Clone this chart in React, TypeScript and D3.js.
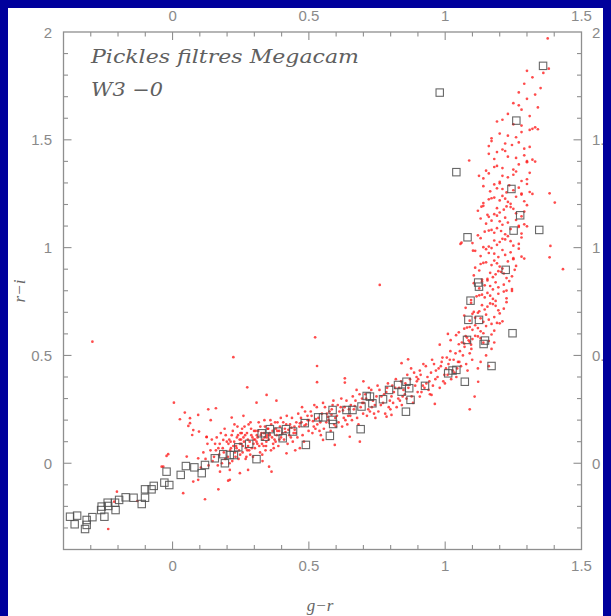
import React from "react";
import * as d3 from "d3";

// Pickles library stars: g-r vs r-i in Megacam filters (open squares)
const pickles: [number, number][] = [
  [-0.376, -0.248], [-0.350, -0.243], [-0.359, -0.283], [-0.321, -0.305], [-0.315, -0.286],
  [-0.315, -0.263], [-0.294, -0.250], [-0.260, -0.201], [-0.262, -0.217], [-0.250, -0.248],
  [-0.238, -0.183], [-0.236, -0.198], [-0.209, -0.217], [-0.211, -0.183], [-0.196, -0.170],
  [-0.172, -0.158], [-0.143, -0.160], [-0.113, -0.189], [-0.101, -0.160], [-0.101, -0.121],
  [-0.077, -0.121], [-0.069, -0.105], [-0.030, -0.090], [-0.012, -0.101], [-0.022, -0.039],
  [0.030, -0.054], [0.049, -0.013], [0.080, -0.019], [0.107, -0.046], [0.119, -0.008],
  [0.155, 0.023], [0.186, 0.042], [0.192, 0.000], [0.210, 0.038], [0.225, 0.038],
  [0.241, 0.074], [0.281, 0.090], [0.308, 0.019], [0.327, 0.139], [0.339, 0.123],
  [0.357, 0.158], [0.387, 0.147], [0.404, 0.116], [0.416, 0.158], [0.442, 0.147],
  [0.489, 0.085], [0.485, 0.186], [0.534, 0.213], [0.552, 0.213], [0.577, 0.127],
  [0.587, 0.201], [0.589, 0.182], [0.587, 0.247], [0.638, 0.247], [0.660, 0.247],
  [0.690, 0.158], [0.693, 0.263], [0.712, 0.312], [0.724, 0.309], [0.733, 0.278],
  [0.772, 0.297], [0.794, 0.340], [0.827, 0.363], [0.840, 0.332], [0.858, 0.378],
  [0.868, 0.348], [0.873, 0.294], [0.856, 0.239], [0.926, 0.359], [1.011, 0.417],
  [1.027, 0.430], [1.041, 0.433], [1.072, 0.378], [1.080, 0.572], [1.146, 0.569],
  [1.141, 0.553], [1.170, 0.451], [1.085, 0.665], [1.124, 0.665], [1.093, 0.754],
  [1.121, 0.838], [1.124, 0.819], [1.222, 0.897], [1.247, 0.603], [0.980, 1.719],
  [1.261, 1.589], [1.041, 1.350], [1.243, 1.272], [1.275, 1.150], [1.251, 1.079],
  [1.345, 1.082], [1.082, 1.048], [1.359, 1.843],
];

// W3 field stars along the main sequence band (red dots)
const fieldBand: [number, number][] = [
  [0.113,0.05],[0.147,0.01],[0.128,0.09],[0.104,-0.02],[0.139,0.06],[0.121,0.02],[0.144,0.11],[0.132,-0.01],
  [0.171,0.04],[0.156,0.09],[0.193,0.02],[0.162,0.12],[0.184,0.07],[0.199,0.10],[0.152,0.03],[0.177,0.14],
  [0.166,-0.01],[0.188,0.05],[0.195,0.13],[0.159,0.06],[0.181,0.00],[0.173,0.09],[0.191,0.16],[0.168,0.07],
  [0.214,0.07],[0.236,0.12],[0.203,0.03],[0.247,0.09],[0.221,0.15],[0.229,0.05],[0.242,0.02],[0.208,0.11],
  [0.233,0.08],[0.219,0.01],[0.249,0.14],[0.226,0.10],[0.211,0.06],[0.238,0.17],[0.205,0.09],[0.244,0.06],
  [0.217,0.13],[0.231,0.03],[0.223,0.08],[0.246,0.11],[0.209,0.00],[0.235,0.07],[0.240,0.13],[0.227,0.18],
  [0.213,0.10],[0.248,0.04],
  [0.262,0.10],[0.281,0.06],[0.254,0.14],[0.293,0.12],[0.271,0.03],[0.288,0.16],[0.258,0.08],[0.297,0.09],
  [0.266,0.13],[0.276,0.11],[0.285,0.04],[0.251,0.11],[0.299,0.15],[0.269,0.07],[0.279,0.18],[0.257,0.05],
  [0.291,0.07],[0.273,0.14],[0.283,0.10],[0.264,0.17],[0.295,0.03],[0.252,0.09],[0.277,0.08],[0.289,0.13],
  [0.268,0.02],[0.260,0.12],[0.286,0.19],[0.274,0.06],[0.298,0.11],[0.255,0.16],
  [0.312,0.12],[0.334,0.08],[0.305,0.15],[0.347,0.13],[0.321,0.05],[0.339,0.17],[0.308,0.10],[0.326,0.14],
  [0.344,0.10],[0.316,0.19],[0.302,0.07],[0.331,0.11],[0.349,0.16],[0.318,0.08],[0.337,0.20],[0.324,0.13],
  [0.341,0.06],[0.309,0.13],[0.328,0.09],[0.346,0.12],[0.314,0.15],[0.335,0.14],[0.303,0.11],[0.322,0.17],
  [0.343,0.08],[0.329,0.04],[0.311,0.09],[0.338,0.12],
  [0.356,0.14],[0.378,0.10],[0.362,0.18],[0.391,0.15],[0.371,0.07],[0.385,0.19],[0.353,0.11],[0.398,0.12],
  [0.367,0.15],[0.382,0.13],[0.359,0.20],[0.394,0.17],[0.374,0.11],[0.388,0.08],[0.365,0.12],[0.351,0.16],
  [0.397,0.21],[0.379,0.16],[0.369,0.09],[0.392,0.11],[0.357,0.13],[0.384,0.15],[0.376,0.19],[0.361,0.06],
  [0.412,0.16],[0.434,0.12],[0.406,0.19],[0.447,0.17],[0.422,0.09],[0.438,0.21],[0.403,0.14],[0.444,0.14],
  [0.417,0.18],[0.428,0.13],[0.441,0.10],[0.409,0.11],[0.431,0.18],[0.419,0.22],[0.425,0.155],[0.436,0.165],
  [0.414,0.145],[0.448,0.155],
  [0.454,0.19],[0.477,0.13],[0.495,0.22],[0.465,0.17],[0.486,0.24],[0.458,0.12],[0.499,0.15],[0.471,0.21],
  [0.482,0.10],[0.461,0.23],[0.490,0.18],[0.475,0.26],[0.452,0.14],[0.496,0.20],[0.467,0.185],[0.484,0.175],
  [0.473,0.19],
  [0.518,0.17],[0.507,0.24],[0.542,0.19],[0.529,0.26],[0.513,0.14],[0.548,0.23],[0.524,0.16],[0.535,0.21],
  [0.501,0.20],[0.539,0.15],[0.520,0.27],[0.544,0.13],[0.510,0.22],[0.531,0.18],[0.526,0.205],[0.515,0.195],
  [0.576,0.24],[0.593,0.18],[0.555,0.16],[0.587,0.27],[0.566,0.23],[0.597,0.21],[0.580,0.15],[0.559,0.26],
  [0.572,0.20],[0.590,0.29],[0.564,0.19],[0.584,0.25],[0.552,0.28],[0.599,0.17],[0.570,0.215],[0.583,0.225],
  [0.612,0.24],[0.634,0.20],[0.606,0.27],[0.647,0.25],[0.622,0.17],[0.638,0.29],[0.603,0.22],[0.644,0.22],
  [0.617,0.26],[0.628,0.21],[0.641,0.18],[0.609,0.19],[0.631,0.26],[0.619,0.30],[0.625,0.245],
  [0.654,0.27],[0.677,0.21],[0.695,0.30],[0.665,0.25],[0.686,0.32],[0.658,0.20],[0.699,0.23],[0.671,0.29],
  [0.682,0.18],[0.661,0.31],[0.690,0.26],[0.675,0.34],[0.652,0.22],[0.696,0.28],[0.668,0.265],
  [0.718,0.25],[0.707,0.32],[0.742,0.27],[0.729,0.34],[0.713,0.22],[0.748,0.31],[0.724,0.24],[0.735,0.29],
  [0.701,0.28],[0.739,0.23],[0.720,0.35],[0.744,0.21],[0.710,0.30],[0.731,0.26],
  [0.776,0.32],[0.793,0.26],[0.755,0.24],[0.787,0.35],[0.766,0.31],[0.797,0.29],[0.780,0.23],[0.759,0.34],
  [0.772,0.28],[0.790,0.37],[0.764,0.27],[0.784,0.33],[0.752,0.36],[0.799,0.25],
  [0.812,0.33],[0.834,0.29],[0.806,0.36],[0.847,0.34],[0.822,0.26],[0.838,0.38],[0.803,0.31],[0.844,0.31],
  [0.817,0.35],[0.828,0.30],[0.841,0.27],[0.809,0.28],[0.831,0.35],[0.819,0.39],
  [0.854,0.37],[0.877,0.31],[0.895,0.40],[0.865,0.35],[0.886,0.42],[0.858,0.30],[0.899,0.33],[0.871,0.39],
  [0.882,0.28],[0.861,0.41],[0.890,0.36],[0.875,0.44],[0.852,0.32],[0.896,0.38],
  [0.918,0.36],[0.907,0.43],[0.942,0.38],[0.929,0.45],[0.913,0.33],[0.948,0.42],[0.924,0.35],[0.935,0.40],
  [0.901,0.39],[0.939,0.34],[0.920,0.46],[0.944,0.32],[0.910,0.41],[0.931,0.37],
  [0.976,0.44],[0.993,0.38],[0.955,0.36],[0.987,0.47],[0.966,0.43],[0.997,0.41],[0.980,0.35],[0.959,0.46],
  [0.972,0.40],[0.990,0.49],[0.964,0.39],[0.984,0.45],[0.952,0.48],[0.999,0.37],
  [1.012,0.46],[1.034,0.42],[1.006,0.49],[1.047,0.47],[1.022,0.39],[1.038,0.51],[1.003,0.44],[1.044,0.44],
  [1.017,0.48],[1.028,0.43],[1.041,0.40],[1.009,0.41],[1.031,0.48],[1.019,0.52],
  [1.054,0.52],[1.077,0.46],[1.095,0.55],[1.065,0.50],[1.086,0.57],[1.058,0.45],[1.099,0.48],[1.071,0.54],
  [1.082,0.43],[1.061,0.56],[1.090,0.51],[1.075,0.59],[1.052,0.47],[1.096,0.53],
  [1.13,0.47],[1.15,0.50],[1.17,0.53],[1.12,0.44],[1.18,0.56],[1.16,0.45],
];

// W3 field stars on the red-dwarf branch
const fieldBranch: [number, number][] = [
  [1.07,0.555],[1.12,0.588],[1.16,0.567],[1.04,0.594],[1.10,0.576],[1.14,0.559],[1.08,0.583],[1.02,0.571],[1.17,0.597],[1.09,0.563],[1.13,0.580],[1.05,0.552],[1.11,0.591],
  [1.13,0.612],[1.08,0.629],[1.17,0.646],[1.05,0.607],[1.15,0.636],[1.10,0.619],[1.20,0.649],[1.07,0.624],[1.14,0.603],[1.11,0.640],[1.18,0.615],[1.09,0.632],[1.12,0.627],
  [1.13,0.672],[1.19,0.651],[1.10,0.693],[1.16,0.666],[1.07,0.685],[1.21,0.658],[1.12,0.698],[1.18,0.678],[1.09,0.661],[1.15,0.689],[1.11,0.675],[1.20,0.695],[1.14,0.656],
  [1.125,0.705],[1.175,0.738],[1.215,0.717],[1.095,0.744],[1.155,0.726],[1.195,0.709],[1.135,0.733],[1.075,0.721],[1.225,0.747],[1.145,0.713],[1.185,0.730],[1.105,0.702],[1.165,0.741],
  [1.175,0.762],[1.125,0.779],[1.215,0.796],[1.095,0.757],[1.195,0.786],[1.145,0.769],[1.245,0.799],[1.115,0.774],[1.185,0.753],[1.155,0.790],[1.225,0.765],[1.135,0.782],[1.165,0.777],
  [1.165,0.822],[1.225,0.801],[1.135,0.843],[1.195,0.816],[1.105,0.835],[1.245,0.808],[1.155,0.848],[1.215,0.828],[1.125,0.811],[1.185,0.839],[1.145,0.825],[1.235,0.845],[1.175,0.806],
  [1.155,0.855],[1.205,0.888],[1.245,0.867],[1.125,0.894],[1.185,0.876],[1.225,0.859],[1.165,0.883],[1.105,0.871],[1.255,0.897],[1.175,0.863],[1.215,0.880],[1.135,0.852],[1.195,0.891],
  [1.20,0.912],[1.14,0.929],[1.25,0.946],[1.11,0.907],[1.23,0.936],[1.17,0.919],[1.29,0.949],[1.13,0.924],[1.21,0.903],[1.18,0.940],[1.26,0.915],[1.15,0.932],[1.19,0.927],
  [1.18,0.972],[1.25,0.951],[1.15,0.993],[1.22,0.966],[1.11,0.985],[1.28,0.958],[1.17,0.998],[1.24,0.978],[1.13,0.961],[1.21,0.989],[1.16,0.975],[1.27,0.995],[1.195,0.956],
  [1.16,1.005],[1.22,1.038],[1.27,1.017],[1.13,1.044],[1.20,1.026],[1.25,1.009],[1.18,1.033],[1.10,1.021],[1.28,1.047],[1.19,1.013],[1.24,1.030],[1.14,1.002],[1.21,1.041],
  [1.22,1.062],[1.16,1.079],[1.27,1.096],[1.12,1.057],[1.24,1.086],[1.18,1.069],[1.30,1.099],[1.145,1.074],[1.23,1.053],[1.19,1.090],[1.28,1.065],[1.17,1.082],[1.205,1.077],
  [1.20,1.122],[1.27,1.101],[1.16,1.143],[1.23,1.116],[1.13,1.135],[1.29,1.108],[1.19,1.148],[1.26,1.128],[1.15,1.111],[1.22,1.139],[1.17,1.125],[1.28,1.145],[1.21,1.106],
  [1.18,1.155],[1.24,1.188],[1.29,1.167],[1.14,1.194],[1.215,1.176],[1.26,1.159],[1.19,1.183],[1.12,1.171],[1.30,1.197],[1.20,1.163],[1.25,1.180],[1.155,1.152],[1.225,1.191],
  [1.23,1.212],[1.17,1.229],[1.28,1.246],[1.14,1.207],[1.26,1.236],[1.20,1.219],[1.32,1.249],[1.16,1.224],[1.24,1.203],[1.21,1.240],[1.29,1.215],[1.18,1.232],[1.22,1.227],
  [1.21,1.272],[1.28,1.251],[1.18,1.293],[1.25,1.266],[1.14,1.285],[1.31,1.258],[1.20,1.298],[1.27,1.278],[1.165,1.261],[1.235,1.289],[1.19,1.275],[1.30,1.295],[1.225,1.256],
  [1.20,1.305],[1.25,1.338],[1.30,1.317],[1.16,1.344],[1.23,1.326],[1.28,1.309],[1.21,1.333],[1.14,1.321],[1.31,1.347],
  [1.25,1.362],[1.19,1.379],[1.30,1.396],[1.15,1.357],[1.27,1.386],[1.21,1.369],[1.33,1.399],[1.18,1.374],[1.26,1.353],
  [1.23,1.422],[1.30,1.401],[1.19,1.443],[1.26,1.416],[1.16,1.435],[1.32,1.408],[1.22,1.448],[1.29,1.428],[1.18,1.411],
  [1.21,1.455],[1.27,1.488],[1.31,1.467],[1.17,1.494],[1.245,1.476],[1.29,1.459],[1.22,1.483],[1.16,1.471],
  [1.26,1.512],[1.20,1.529],[1.31,1.546],[1.17,1.507],[1.28,1.536],[1.23,1.519],[1.34,1.549],
  [1.25,1.572],[1.32,1.551],[1.21,1.593],[1.28,1.566],[1.19,1.585],[1.33,1.558],
  [1.23,1.62],[1.28,1.64],[1.31,1.61],[1.25,1.67],[1.30,1.69],[1.27,1.72],[1.33,1.71],[1.29,1.76],
  [1.32,1.79],[1.35,1.74],[1.38,1.83],[1.36,1.81],[1.376,1.97],[1.30,1.82],[1.27,1.66],[1.34,1.65],
];

// W3 field stars scattered off the sequence
const fieldStray: [number, number][] = [
  [0.523,0.584],[0.223,0.492],[0.530,0.451],[0.530,0.376],[0.632,0.394],[0.632,0.374],
  [0.274,0.352],[0.345,0.317],[0.381,0.290],[0.308,0.281],[0.005,0.281],[0.045,0.235],
  [0.064,0.209],[0.094,0.224],[0.131,0.250],[0.159,0.255],[0.217,0.212],[0.027,0.204],
  [0.076,0.154],[0.125,0.121],[0.186,0.108],[-0.022,0.034],[0.052,0.031],[0.094,0.023],
  [0.174,-0.039],[0.210,-0.077],[0.247,-0.046],[0.277,-0.031],[0.354,-0.016],[0.363,-0.039],
  [0.418,0.046],[0.168,-0.121],[0.119,-0.167],[0.039,-0.139],[-0.034,-0.016],[0.687,0.100],
  [0.650,0.123],[0.552,0.108],[0.467,0.070],[0.595,0.085],[-0.294,0.564],[-0.236,-0.305],
  [-0.214,-0.178],[-0.016,0.042],[-0.040,-0.016],[0.064,0.186],[0.058,0.173],[0.072,0.131],
  [0.097,0.147],[0.125,0.123],[0.076,-0.085],[0.094,-0.077],[0.204,-0.081],[0.210,-0.031],
  [-0.129,-0.175],[-0.204,-0.132],[0.760,0.827],[1.108,0.309],[1.090,0.250],[1.121,0.378],
  [0.840,0.464],[0.864,0.482],[0.907,0.309],[0.950,0.317],[0.962,0.275],[0.803,0.224],
  [0.785,0.216],[1.088,1.404],[1.133,1.190],[1.402,1.209],[1.383,1.252],[1.124,1.333],
  [1.102,0.986],[1.056,1.017],[1.432,0.900],[1.383,0.955],[1.386,1.008],[1.060,1.023],
  [0.14,0.20],[0.26,0.22],[0.33,0.01],[0.45,0.06],[0.70,0.38],[0.98,0.55],[1.01,0.60],
];

const xMajor = [0, 0.5, 1, 1.5];
const yMajor = [0, 0.5, 1, 1.5, 2];
const xMinor = d3.range(-3, 15).map((i) => i / 10);
const yMinor = d3.range(-3, 20).map((i) => i / 10);
const titleLines = ["Pickles filtres Megacam", "W3  \u22120"];
const xLabel = "g\u2212r";
const yLabel = "r\u2212i";

const fmt = (v: number) => String(v);

export default function App() {
  if (typeof document !== "undefined") {
    document.body.style.background = "#00009c";
  }
  const x = d3.scaleLinear().domain([-0.4, 1.5]).range([63.5, 581.5]);
  const y = d3.scaleLinear().domain([-0.4, 2]).range([549.5, 32]);
  const [x0, x1] = x.range();
  const [y0, y1] = y.range();
  const frame = "#8f8f8f";
  const tickCol = "#8a8a8a";
  const majorLen = 8;
  const minorLen = 4.5;
  const field = [...fieldBand, ...fieldBranch, ...fieldStray];
  const labelFont = "Liberation Sans, Arial, sans-serif";

  return (
    <svg width={603} height={608} style={{ display: "block", background: "#ffffff" }}>
      <g transform="translate(-8,-8)">
        {/* field stars */}
        <g fill="#ff1a1a" fillOpacity={0.78}>
          {field.map(([a, b], i) => (
            <circle key={i} cx={x(a)} cy={y(b)} r={1.35} />
          ))}
        </g>
        {/* Pickles library */}
        <g fill="none" stroke="#4d4d4d" strokeWidth={1.1} strokeOpacity={0.85}>
          {pickles.map(([a, b], i) => (
            <rect key={i} x={x(a) - 3.7} y={y(b) - 3.7} width={7.4} height={7.4} />
          ))}
        </g>
        {/* frame */}
        <rect x={x0} y={y1} width={x1 - x0} height={y0 - y1} fill="none" stroke={frame} strokeWidth={1.3} />
        {/* ticks on all four sides */}
        <g stroke={frame} strokeWidth={1.1}>
          {xMinor.map((v) => {
            const len = xMajor.some((m) => Math.abs(m - v) < 1e-9) ? majorLen : minorLen;
            return (
              <g key={"xt" + v}>
                <line x1={x(v)} x2={x(v)} y1={y0} y2={y0 - len} />
                <line x1={x(v)} x2={x(v)} y1={y1} y2={y1 + len} />
              </g>
            );
          })}
          {yMinor.map((v) => {
            const len = yMajor.some((m) => Math.abs(m - v) < 1e-9) ? majorLen : minorLen;
            return (
              <g key={"yt" + v}>
                <line x1={x0} x2={x0 + len} y1={y(v)} y2={y(v)} />
                <line x1={x1} x2={x1 - len} y1={y(v)} y2={y(v)} />
              </g>
            );
          })}
        </g>
        {/* tick labels */}
        <g fill={tickCol} fontFamily={labelFont} fontSize={15}>
          {xMajor.map((v) => (
            <text key={"xb" + v} x={x(v)} y={571} textAnchor="middle">{fmt(v)}</text>
          ))}
          {xMajor.map((v) => (
            <text key={"xtop" + v} x={x(v)} y={21} textAnchor="middle">{fmt(v)}</text>
          ))}
          {yMajor.map((v) => (
            <text key={"yl" + v} x={52} y={y(v) + 5.5} textAnchor="end">{fmt(v)}</text>
          ))}
          {yMajor.map((v) => (
            <text key={"yr" + v} x={592} y={y(v) + 5.5} textAnchor="start">{fmt(v)}</text>
          ))}
        </g>
        {/* axis titles */}
        <text x={320} y={611} textAnchor="middle" fontFamily="Liberation Serif, serif" fontStyle="italic" fontSize={17} fill="#666">
          {xLabel}
        </text>
        <text
          transform="translate(25,291) rotate(-90)"
          textAnchor="middle"
          fontFamily="Liberation Serif, serif"
          fontStyle="italic"
          fontSize={17}
          fill="#666"
        >
          {yLabel}
        </text>
        {/* annotation */}
        <g fontFamily="DejaVu Serif, serif" fontStyle="italic" fontSize={19} fill="#606060" style={{ whiteSpace: "pre" }}>
          <text x={91} y={63} textLength={268} lengthAdjust="spacingAndGlyphs">{titleLines[0]}</text>
          <text x={91} y={96} textLength={72} lengthAdjust="spacingAndGlyphs">{titleLines[1]}</text>
        </g>
      </g>
    </svg>
  );
}
